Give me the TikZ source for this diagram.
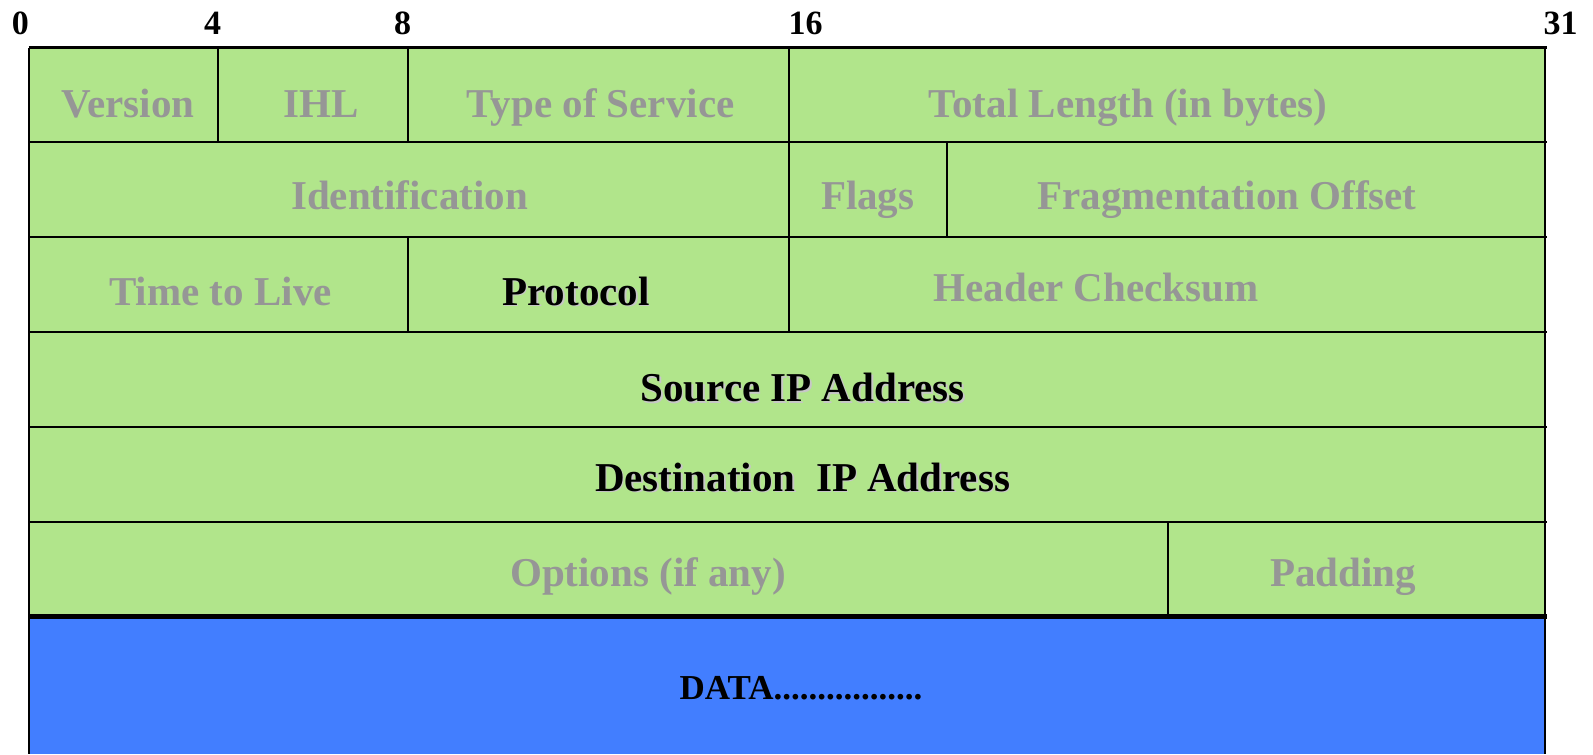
\documentclass[tikz,border=0pt]{standalone}
\usepackage{fontspec}
\setmainfont{Liberation Serif}
\definecolor{hdrgreen}{RGB}{177,229,139}
\definecolor{datablue}{RGB}{66,126,255}
\definecolor{fieldgray}{RGB}{150,150,150}
\newcommand{\shadowed}[1]{\makebox[0pt][l]{\hspace{0.8pt}\raisebox{-0.8pt}{\color{black!22}#1}}#1}
\tikzset{
  field/.style = {anchor = base, inner sep = 0pt, text = fieldgray,
    font = \fontsize{20.5}{24}\selectfont\bfseries},
  keyfield/.style = {field, text = black},
  bitno/.style = {anchor = base, inner sep = 0pt,
    font = \fontsize{17}{20}\selectfont\bfseries}
}

\begin{document}
\begin{tikzpicture}[x = 0.5pt, y = -0.5pt]
\useasboundingbox (0, 0) rectangle (1593, 754);
\fill[hdrgreen] (28.5, 47.7) rectangle (1545, 616.5);
\fill[datablue] (28.5, 616.5) rectangle (1545, 754);
% bit numbers
\node[bitno] (bit0) at (20.3, 35) {0};
\node[bitno] (bit4) at (212.5, 35) {4};
\node[bitno] (bit8) at (402.7, 35) {8};
\node[bitno] (bit16) at (805.7, 35) {16};
\node[bitno] (bit31) at (1560.5, 35) {31};
% rows
\draw[line width = 1.2pt] (28.5, 47.7) -- (1547, 47.7);
\foreach \y in {142, 236.7, 331.7, 426.7, 521.7}
  \draw[line width = 1pt] (28.5, \y) -- (1547, \y);
\draw[line width = 2.2pt] (28.5, 616.5) -- (1547, 616.5);
\draw[line width = 1pt] (28.5, 47.7) -- (28.5, 754);
\draw[line width = 1pt] (1545, 47.7) -- (1545, 754);
% field borders
\draw[line width = 1pt] (218, 47.7) -- (218, 142);
\draw[line width = 1pt] (408, 47.7) -- (408, 142);
\draw[line width = 1pt] (788.5, 47.7) -- (788.5, 331.7);
\draw[line width = 1pt] (946.7, 142) -- (946.7, 236.7);
\draw[line width = 1pt] (408, 236.7) -- (408, 331.7);
\draw[line width = 1pt] (1168.4, 521.7) -- (1168.4, 616.5);
% labels
\node[field] (version) at (128, 118) {Version};
\node[field] (ihl) at (321, 118) {IHL};
\node[field] (tos) at (600.5, 118) {Type of Service};
\node[field] (totlen) at (1128, 118) {Total Length (in bytes)};
\node[field] (ident) at (409.5, 209.5) {Identification};
\node[field] (flags) at (867.7, 209.5) {Flags};
\node[field] (fragoff) at (1227, 209.5) {Fragmentation Offset};
\node[field] (ttl) at (220.5, 305) {Time to Live};
\node[keyfield] (proto) at (576, 305) {\shadowed{Protocol}};
\node[field] (checksum) at (1096, 301) {Header Checksum};
\node[keyfield] (srcip) at (802.6, 401.5) {\shadowed{Source IP Address}};
\node[keyfield] (dstip) at (802.6, 491) {\shadowed{Destination\ \ IP Address}};
\node[field] (options) at (648, 586) {Options (if any)};
\node[field] (padding) at (1343, 586) {Padding};
\node[keyfield, font = \fontsize{17.5}{20}\selectfont\bfseries] (data)
  at (801, 699) {DATA.................};
\end{tikzpicture}
\end{document}
